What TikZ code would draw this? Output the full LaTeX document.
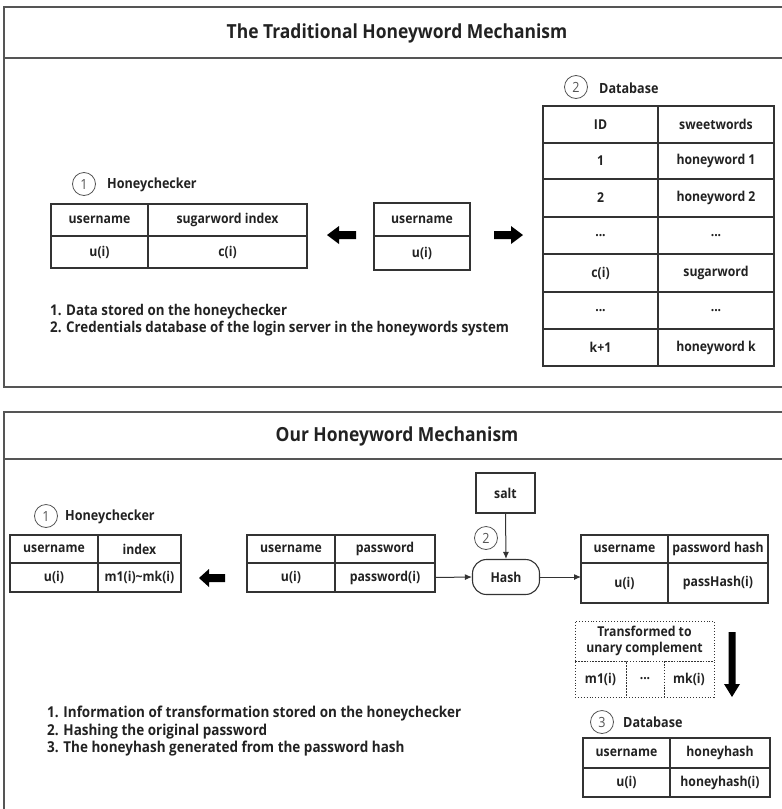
\documentclass[tikz,border=0pt]{standalone}
\usepackage{fontspec}
\setmainfont{Open Sans}[FakeStretch=0.9]
\usetikzlibrary{arrows.meta,calc}
\definecolor{linec}{HTML}{333333}
\definecolor{panelc}{HTML}{555555}
\definecolor{txt}{HTML}{222222}
\definecolor{circc}{HTML}{555555}
\tikzset{
  cellbox/.style={draw=linec, line width=1.1pt, inner sep=0pt, outer sep=0pt, align=center,
    font=\fontsize{13.6}{15}\selectfont\bfseries, text=txt},
  dotcell/.style={draw=linec, line width=0.9pt, dotted, inner sep=0pt, outer sep=0pt, align=center,
    font=\fontsize{13.6}{15.5}\selectfont\bfseries, text=txt},
  numcirc/.style={circle, draw=circc, line width=0.8pt, minimum size=23pt, inner sep=0pt,
    font=\fontsize{14}{15}\selectfont, text=circc},
  lbl/.style={anchor=west, inner sep=0pt, font=\fontsize{14}{15}\selectfont\bfseries, text=txt},
  notes/.style={anchor=west, inner sep=0pt, text=txt},
  ttl/.style={inner sep=0pt, font=\fontsize{19.4}{21}\selectfont\bfseries, text=txt},
  thinarr/.style={draw=linec, line width=1pt, -{Latex[length=7pt,width=6pt]}},
  fatarr/.style={fill=black},
  panel/.style={draw=panelc, line width=1.6pt},
}
\newcommand\tcell[7][cellbox]{%
  \pgfmathsetmacro\cw{#5-#3}\pgfmathsetmacro\ch{#6-#4}%
  \pgfmathsetmacro\cx{(#3+#5)/2}\pgfmathsetmacro\cy{(#4+#6)/2}%
  \node[#1, minimum width=\cw pt, minimum height=\ch pt] (#2) at (\cx,\cy) {#7};}
\begin{document}
\begin{tikzpicture}[x=1pt,y=-1pt]
\useasboundingbox (0,0) rectangle (782,809);
\begin{scope}
\clip (0,0) rectangle (782,809);
% ---------- top panel ----------
\draw[panel] (4,7) rectangle (800,387);
\draw[panel] (4,58) -- (800,58);
\node[ttl] (t1) at (397,33) {The Traditional Honeyword Mechanism};
% honeychecker table
\node[numcirc] (c1) at (84,184) {1};
\node[lbl] (hc1) at (107,185) {Honeychecker};
\tcell{h11}{51}{204}{148}{236}{username}
\tcell{h12}{148}{204}{307}{236}{sugarword index}
\tcell{h21}{51}{236}{148}{268}{u(i)}
\tcell{h22}{148}{236}{307}{268}{c(i)}
% username table
\tcell{un1}{374}{203}{470}{236}{username}
\tcell{un2}{374}{236}{470}{270}{u(i)}
% fat arrows
\coordinate (la) at (341,235);
\fill[fatarr] ($(la)+(15,-4)$) -- ($(la)+(-2,-4)$) -- ($(la)+(-2,-9)$) -- ($(la)+(-14,0)$) -- ($(la)+(-2,9)$) -- ($(la)+(-2,4)$) -- ($(la)+(15,4)$) -- cycle;
\coordinate (ra) at (509,235);
\fill[fatarr] ($(ra)+(-15,-4)$) -- ($(ra)+(2,-4)$) -- ($(ra)+(2,-9)$) -- ($(ra)+(14,0)$) -- ($(ra)+(2,9)$) -- ($(ra)+(2,4)$) -- ($(ra)+(-15,4)$) -- cycle;
% database table
\node[numcirc] (c2) at (576,87) {2};
\node[lbl] (db1) at (599,88) {Database};
\tcell{d01}{543}{106}{658}{143}{ID}
\tcell{d02}{658}{106}{774}{143}{sweetwords}
\tcell{d11}{543}{143}{658}{179}{1}
\tcell{d12}{658}{143}{774}{179}{honeyword 1}
\tcell{d21}{543}{179}{658}{217}{2}
\tcell{d22}{658}{179}{774}{217}{honeyword 2}
\tcell{d31}{543}{217}{658}{254}{...}
\tcell{d32}{658}{217}{774}{254}{...}
\tcell{d41}{543}{254}{658}{292}{c(i)}
\tcell{d42}{658}{254}{774}{292}{sugarword}
\tcell{d51}{543}{292}{658}{329}{...}
\tcell{d52}{658}{292}{774}{329}{...}
\tcell{d61}{543}{329}{658}{366}{k+1}
\tcell{d62}{658}{329}{774}{366}{honeyword k}
\node[notes, font=\fontsize{14.8}{16}\selectfont\bfseries] (n1a) at (50,312) {1. Data stored on the honeychecker};
\node[notes, font=\fontsize{14.8}{16}\selectfont\bfseries] (n1b) at (50,329) {2. Credentials database of the login server in the honeywords system};
% ---------- bottom panel ----------
\draw[panel] (4,412) rectangle (800,830);
\draw[panel] (4,459) -- (800,459);
\node[ttl] (t2) at (397,436) {Our Honeyword Mechanism};
% honeychecker
\node[numcirc] (c3) at (46,516) {1};
\node[lbl] (hc2) at (65,517) {Honeychecker};
\tcell{b11}{10}{535}{98}{563}{username}
\tcell{b12}{98}{535}{181}{563}{index}
\tcell{b21}{10}{563}{98}{592}{u(i)}
\tcell{b22}{98}{563}{181}{592}{m1(i)\textasciitilde mk(i)}
\coordinate (la2) at (211,578);
\fill[fatarr] ($(la2)+(14,-4)$) -- ($(la2)+(-2,-4)$) -- ($(la2)+(-2,-9)$) -- ($(la2)+(-12,0)$) -- ($(la2)+(-2,9)$) -- ($(la2)+(-2,4)$) -- ($(la2)+(14,4)$) -- cycle;
% username / password
\tcell{p11}{247}{535}{335}{563}{username}
\tcell{p12}{335}{535}{435}{563}{password}
\tcell{p21}{247}{563}{335}{592}{u(i)}
\tcell{p22}{335}{563}{435}{592}{password(i)}
% salt and hash
\tcell{salt}{476}{473}{535}{513}{salt}
\node[draw=linec, line width=1.1pt, rounded corners=14pt, minimum width=67pt, minimum height=35pt,
  inner sep=0pt, font=\fontsize{13.6}{15}\selectfont\bfseries, text=txt] (hash) at (506,577) {Hash};
\node[numcirc] (c4) at (486,538) {2};
\draw[thinarr] (salt.south) -- (hash.north);
\draw[thinarr] (p22.east) -- (hash.west);
% password hash table
\tcell{q11}{581}{535}{668}{563}{username}
\tcell{q12}{668}{535}{768}{563}{\raisebox{-2pt}{password hash}}
\tcell{q21}{581}{563}{668}{603}{u(i)}
\tcell{q22}{668}{563}{768}{603}{passHash(i)}
\draw[thinarr] (hash.east) -- (hash.east -| q21.west);
% dotted transformation box
\tcell[dotcell]{tr}{575}{621}{714}{661}{Transformed to\\unary complement}
\tcell[dotcell]{m1}{575}{661}{626}{697}{m1(i)}
\tcell[dotcell]{md}{626}{661}{664}{697}{...}
\tcell[dotcell]{mk}{664}{661}{714}{697}{mk(i)}
% down fat arrow
\coordinate (da) at (732,686);
\fill[fatarr] ($(da)+(-3.5,-54)$) -- ($(da)+(3.5,-54)$) -- ($(da)+(3.5,-2)$) -- ($(da)+(8,-2)$) -- ($(da)+(0,11)$) -- ($(da)+(-8,-2)$) -- ($(da)+(-3.5,-2)$) -- cycle;
% database
\node[numcirc] (c5) at (602,722) {3};
\node[lbl] (db2) at (623,722) {Database};
\tcell{e11}{583}{738}{670}{768}{username}
\tcell{e12}{670}{738}{770}{768}{honeyhash}
\tcell{e21}{583}{768}{670}{797}{u(i)}
\tcell{e22}{670}{768}{770}{797}{honeyhash(i)}
\node[notes, font=\fontsize{15}{16}\selectfont\bfseries] (n2a) at (47,714) {1. Information of transformation stored on the honeychecker};
\node[notes, font=\fontsize{15}{16}\selectfont\bfseries] (n2b) at (47,732) {2. Hashing the original password};
\node[notes, font=\fontsize{15}{16}\selectfont\bfseries] (n2c) at (47,749) {3. The honeyhash generated from the password hash};
\end{scope}
\end{tikzpicture}
\end{document}
